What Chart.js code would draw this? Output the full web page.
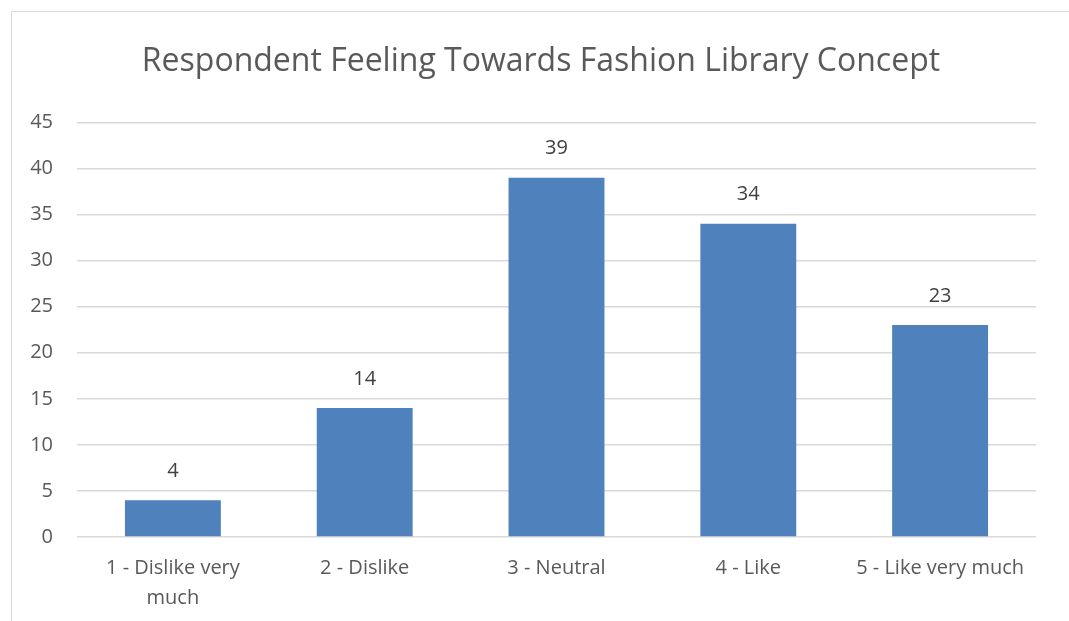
<!DOCTYPE html>
<html lang="en">
<head>
    <meta charset="UTF-8">
    <title>Respondent Feeling Towards Fashion Library Concept</title>
    <script src="https://cdn.jsdelivr.net/npm/chart.js"></script>
    <style>
        body { margin: 0; background: #fff; overflow: hidden; }
        .frame {
            position: absolute; left: 11px; top: 11px;
            width: 1100px; height: 700px;
            border: 1px solid #d9d9d9;
        }
        .chart-wrapper {
            position: absolute; left: 0; top: 0;
            width: 1069px; height: 621px;
        }
    </style>
</head>
<body>
    <div class="frame"></div>
    <div class="chart-wrapper">
        <canvas id="feelingChart"></canvas>
    </div>

    <script>
        const categories = [
            ['1 - Dislike very', 'much'],
            '2 - Dislike',
            '3 - Neutral',
            '4 - Like',
            '5 - Like very much'
        ];
        const respondents = [4, 14, 39, 34, 23];
        const yTicks = [0, 5, 10, 15, 20, 25, 30, 35, 40, 45];

        const fontFamily = "'Open Sans', 'Liberation Sans', sans-serif";

        // value labels above each bar
        const barLabels = {
            id: 'barLabels',
            afterDatasetsDraw(chart) {
                const ctx = chart.ctx;
                const meta = chart.getDatasetMeta(0);
                ctx.save();
                ctx.fillStyle = '#404040';
                ctx.font = `20px ${fontFamily}`;
                ctx.textAlign = 'center';
                ctx.textBaseline = 'middle';
                meta.data.forEach((bar, i) => {
                    ctx.fillText(respondents[i], bar.x, bar.y - 29);
                });
                ctx.restore();
            }
        };

        new Chart(document.getElementById('feelingChart'), {
            type: 'bar',
            data: {
                labels: categories,
                datasets: [{
                    data: respondents,
                    backgroundColor: '#4f81bd',
                    borderWidth: 0,
                    categoryPercentage: 0.5,
                    barPercentage: 1.0
                }]
            },
            options: {
                responsive: true,
                maintainAspectRatio: false,
                animation: false,
                layout: { padding: { left: 13, right: 0, top: 0, bottom: 0 } },
                plugins: {
                    legend: { display: false },
                    tooltip: { enabled: false },
                    title: {
                        display: true,
                        text: 'Respondent Feeling Towards Fashion Library Concept',
                        color: '#595959',
                        font: { family: fontFamily, size: 32, weight: 'normal' },
                        padding: { top: 43, bottom: 41 }
                    }
                },
                scales: {
                    x: {
                        grid: { display: false },
                        border: { display: false },
                        ticks: {
                            color: '#595959',
                            font: { family: fontFamily, size: 20, lineHeight: 1.5 },
                            padding: 8,
                            maxRotation: 0,
                            autoSkip: false
                        },
                        afterFit(scale) { scale.height = 84; }
                    },
                    y: {
                        min: 0,
                        max: 45,
                        afterBuildTicks(scale) {
                            scale.ticks = yTicks.map(v => ({ value: v }));
                        },
                        grid: { color: '#d9d9d9', drawTicks: false, lineWidth: 1.5 },
                        border: { display: false },
                        ticks: {
                            color: '#595959',
                            font: { family: fontFamily, size: 20 },
                            padding: 24
                        },
                        afterFit(scale) { scale.width = 64; }
                    },
                    // empty right-hand axis, only reserves the gap after the plot
                    yRight: {
                        position: 'right',
                        min: 0,
                        max: 45,
                        grid: { display: false },
                        border: { display: false },
                        ticks: { display: false },
                        afterFit(scale) { scale.width = 33; }
                    }
                }
            },
            plugins: [barLabels]
        });
    </script>
</body>
</html>
